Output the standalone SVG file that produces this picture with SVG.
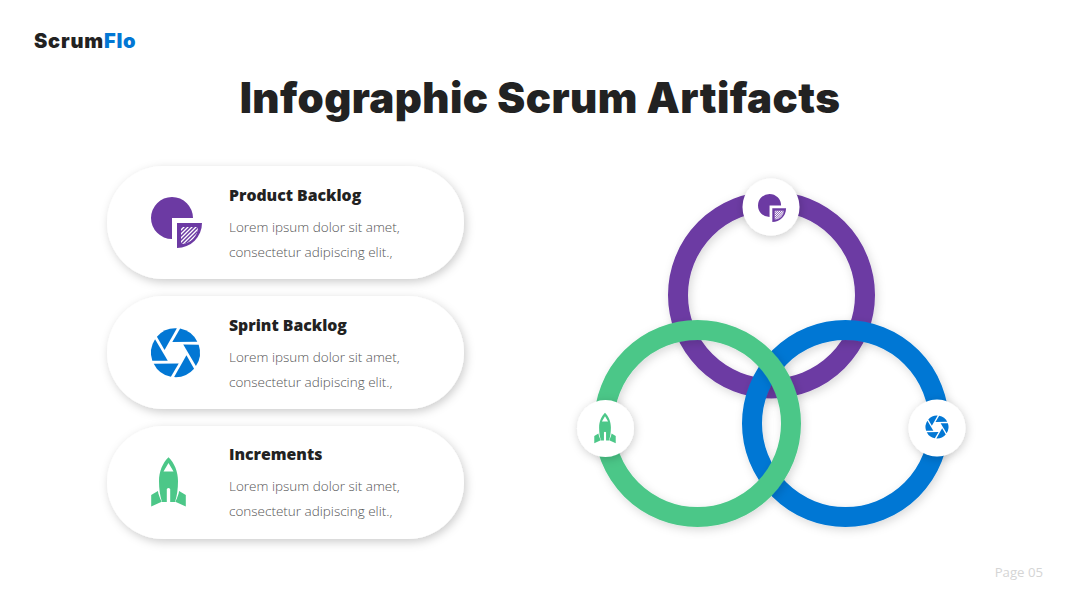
<svg xmlns="http://www.w3.org/2000/svg" width="1080" height="608" viewBox="0 0 1080 608">
<style>
.h{font-family:"Open Sans","Liberation Sans",sans-serif;font-weight:800;font-size:15.8px;fill:#222}
.b{font-family:"Open Sans","Liberation Sans",sans-serif;font-weight:300;font-size:13.5px;fill:#555}
.card{fill:#fff;filter:url(#s)}
.ring{fill:none;stroke-width:20;filter:url(#rs)}
.disc{fill:#fff;filter:url(#ds)}
</style>
<defs>
<filter id="s" x="-20%" y="-30%" width="140%" height="170%"><feDropShadow dx="2" dy="3" stdDeviation="5" flood-color="#000" flood-opacity=".2"/></filter>
<filter id="rs" x="-20%" y="-20%" width="140%" height="140%"><feDropShadow dx="2" dy="3" stdDeviation="5" flood-color="#000" flood-opacity=".15"/></filter>
<filter id="ds" x="-50%" y="-50%" width="200%" height="200%"><feDropShadow dx="1" dy="2" stdDeviation="5" flood-color="#000" flood-opacity=".2"/></filter>
<clipPath id="hatch-clip"><path d="M6 5H23A17 17 0 0 1 6 22Z"/></clipPath>
<g id="pie">
<path d="M-3-4H18A21 21 0 1 0 -3 17Z" fill="#6c3aa3"/>
<path d="M2 1H27A25 25 0 0 1 2 26Z" fill="#6c3aa3"/>
<g clip-path="url(#hatch-clip)">
<rect x="4" y="3" width="22" height="22" fill="#fff"/>
<path d="M0 12L12 0M0 16L16 0M0 20L20 0M0 24L24 0M0 28L28 0M4 28L32 0M8 28L36 0M12 28L40 0" stroke="#6c3aa3" stroke-width="1.500" fill="none"/>
</g>
</g>
<path id="blade" d="M-3.200-10.800L4.600-24.100A24.500 24.500 0 0 1 21.800-11Z"/>
<g id="aperture" fill="#0277d4">
<use href="#blade"/><use href="#blade" transform="rotate(60)"/><use href="#blade" transform="rotate(120)"/><use href="#blade" transform="rotate(180)"/><use href="#blade" transform="rotate(240)"/><use href="#blade" transform="rotate(300)"/>
</g>
<g id="rocket" fill="#4cc788">
<path fill-rule="evenodd" d="M0-28.700C6-23 9.500-14 9.500-5C9.500 3 8.500 10 6.500 16H1.700V3Q0 1-1.700 3V16H-6.500C-8.500 10-9.500 3-9.500-5C-9.500-14-6-23 0-28.700ZM0-23L-5-14.500H5Z"/>
<path d="M-10.600 5L-17.300 9V20.500L-6.800 15.700C-8.700 12-10.200 8-10.600 5Z"/>
<path d="M10.600 5L17.300 9V20.500L6.800 15.700C8.700 12 10.200 8 10.600 5Z"/>
</g>
</defs>
<rect width="1080" height="608" fill="#fff"/>
<text x="34" y="48" font-family="Inter,'Liberation Sans',sans-serif" font-weight="900" font-size="20" letter-spacing=".8" fill="#222">Scrum<tspan fill="#0277d4">Flo</tspan></text>
<text x="540" y="113" text-anchor="middle" font-family="Inter,'Liberation Sans',sans-serif" font-weight="900" font-size="42" letter-spacing=".4" fill="#222">Infographic Scrum Artifacts</text>
<g id="node-product-backlog">
<rect class="card" x="107" y="166" width="357" height="113" rx="56.500"/>
<use href="#pie" transform="translate(175,222)"/>
<text class="h" x="229" y="201">Product Backlog</text>
<text class="b" x="229" y="232">Lorem ipsum dolor sit amet,</text>
<text class="b" x="229" y="257">consectetur adipiscing elit.,</text>
</g>
<g id="node-sprint-backlog">
<rect class="card" x="107" y="296" width="357" height="113" rx="56.500"/>
<use href="#aperture" transform="translate(175.500,352.700)"/>
<text class="h" x="229" y="331">Sprint Backlog</text>
<text class="b" x="229" y="362">Lorem ipsum dolor sit amet,</text>
<text class="b" x="229" y="387">consectetur adipiscing elit.,</text>
</g>
<g id="node-increments">
<rect class="card" x="107" y="426" width="357" height="113" rx="56.500"/>
<use href="#rocket" transform="translate(168.500,486)"/>
<text class="h" x="229" y="460">Increments</text>
<text class="b" x="229" y="491">Lorem ipsum dolor sit amet,</text>
<text class="b" x="229" y="516">consectetur adipiscing elit.,</text>
</g>
<g id="connectors">
<circle class="ring" cx="771.500" cy="295" r="93.500" stroke="#6c3aa3"/>
<circle class="ring" cx="845.500" cy="423.500" r="93.500" stroke="#0277d4"/>
<circle class="ring" cx="697.500" cy="423.500" r="93.500" stroke="#4cc788"/>
</g>
<g id="node-ring-purple"><circle class="disc" cx="771" cy="207" r="28.500"/><use href="#pie" transform="translate(771.200,207.700) scale(.55)"/></g>
<g id="node-ring-blue"><circle class="disc" cx="937" cy="428" r="28.500"/><use href="#aperture" transform="translate(937,427) scale(.47)"/></g>
<g id="node-ring-green"><circle class="disc" cx="605.500" cy="428.500" r="28.500"/><use href="#rocket" transform="translate(605,430.500) scale(.62)"/></g>
<text x="1043" y="577" text-anchor="end" font-family="'Open Sans','Liberation Sans',sans-serif" font-size="13.200" fill="#d5d5d5">Page 05</text>
</svg>
